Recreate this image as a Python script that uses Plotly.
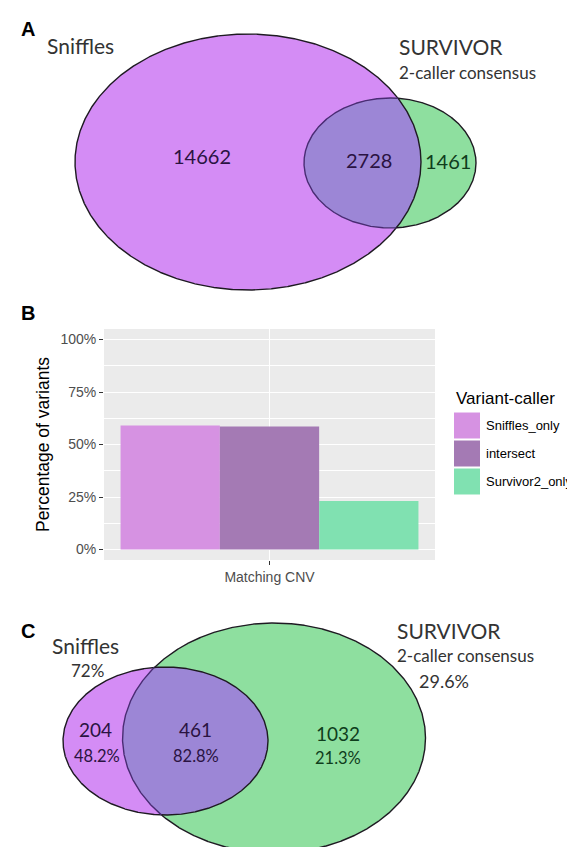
import numpy as np
import plotly.graph_objects as go

W, H = 575, 847

# ---------------- data ----------------
# Panel A (Venn counts)
a_sets = ["Sniffles", "SURVIVOR"]
a_subtitle = "2-caller consensus"
a_counts = [14662, 2728, 1461]          # Sniffles only, intersect, SURVIVOR only

# Panel B (bar chart)
b_category = ["Matching CNV"]
b_callers = ["Sniffles_only", "intersect", "Survivor2_only"]
b_values = [59.1, 58.6, 23.1]            # percent of variants
b_colors = ["#d692e2", "#a47ab4", "#80e1b1"]
b_tickvals = [0, 25, 50, 75, 100]
b_ticktext = ["0%", "25%", "50%", "75%", "100%"]
b_ytitle = "Percentage of variants"
b_legend_title = "Variant-caller"

# Panel C (Venn counts + percentages)
c_sets = ["Sniffles", "SURVIVOR"]
c_subtitle = "2-caller consensus"
c_counts = [204, 461, 1032]
c_region_pct = ["48.2%", "82.8%", "21.3%"]
c_set_pct = ["72%", "29.6%"]

# ---------------- styling / geometry ----------------
PURPLE = "#d48cf5"
GREEN = "#8edf9f"
OVERLAP = "#9c86d6"
EDGE = "#1e1a22"
EDGE_IN = "#4a2b74"
TXT_P = "#2a1342"
TXT_G = "#0f3d1c"
TXT_L = "#333333"
VFONT = "Lato"
GFONT = "Liberation Sans"

# ellipse geometry in figure pixel space: (cx, cy, rx, ry)
A_E1 = (240, 154, 173, 128)
A_E2 = (382, 155, 86, 65)
C_E1 = (157.5, 733, 102.5, 74)
C_E2 = (266, 730, 151.5, 115)


def ellipse(e, n=1500):
    cx, cy, rx, ry = e
    t = np.linspace(0, 2 * np.pi, n)
    return cx + rx * np.cos(t), cy + ry * np.sin(t)


def inside(x, y, e):
    cx, cy, rx, ry = e
    return ((x - cx) / rx) ** 2 + ((y - cy) / ry) ** 2 <= 1


def intersection(e1, e2):
    x1, y1 = ellipse(e1, 3000)
    x2, y2 = ellipse(e2, 3000)
    m1 = inside(x1, y1, e2)
    m2 = inside(x2, y2, e1)
    px = np.concatenate([x1[m1], x2[m2]])
    py = np.concatenate([y1[m1], y2[m2]])
    cx, cy = px.mean(), py.mean()
    o = np.argsort(np.arctan2(py - cy, px - cx))
    px, py = px[o], py[o]
    return np.append(px, px[0]), np.append(py, py[0])


fig = go.Figure()


def add_venn(e1, e2):
    for e, col in ((e1, PURPLE), (e2, GREEN)):
        x, y = ellipse(e)
        fig.add_trace(go.Scatter(x=x, y=y, mode="lines", fill="toself", fillcolor=col,
                                 line=dict(width=0), hoverinfo="skip", showlegend=False,
                                 xaxis="x2", yaxis="y2"))
    ix, iy = intersection(e1, e2)
    fig.add_trace(go.Scatter(x=ix, y=iy, mode="lines", fill="toself", fillcolor=OVERLAP,
                             line=dict(width=0), hoverinfo="skip", showlegend=False,
                             xaxis="x2", yaxis="y2"))
    x, y = ellipse(e1)
    fig.add_trace(go.Scatter(x=x, y=y, mode="lines", line=dict(color=EDGE, width=1.4),
                             hoverinfo="skip", showlegend=False, xaxis="x2", yaxis="y2"))
    x, y = ellipse(e2, 3000)
    m = inside(x, y, e1)
    for mask, col in ((~m, EDGE), (m, EDGE_IN)):
        fig.add_trace(go.Scatter(x=np.where(mask, x, np.nan), y=np.where(mask, y, np.nan),
                                 mode="lines", line=dict(color=col, width=1.4),
                                 connectgaps=False, hoverinfo="skip", showlegend=False,
                                 xaxis="x2", yaxis="y2"))


add_venn(A_E1, A_E2)
add_venn(C_E1, C_E2)

# ---------------- bar chart ----------------
for name, val, col in zip(b_callers, b_values, b_colors):
    fig.add_trace(go.Bar(x=b_category, y=[val], name=name,
                         marker=dict(color=col, line=dict(width=0)),
                         showlegend=False, xaxis="x", yaxis="y"))

annotations = []


def txt(x, y, s, size, color, family=VFONT, xanchor="center", yanchor="middle"):
    annotations.append(dict(x=x, y=y, xref="x2", yref="y2", text=s, showarrow=False,
                            font=dict(family=family, size=size, color=color),
                            xanchor=xanchor, yanchor=yanchor))


# panel letters
txt(20, 21, "<b>A</b>", 20, "#000000", GFONT)
txt(20, 305, "<b>B</b>", 20, "#000000", GFONT)
txt(20, 623, "<b>C</b>", 20, "#000000", GFONT)

# panel A texts
txt(37, 37, a_sets[0], 21, TXT_L, xanchor="left")
txt(389, 38, a_sets[1], 21, TXT_L, xanchor="left")
txt(389, 64, a_subtitle, 17, TXT_L, xanchor="left")
txt(194, 148, f"{a_counts[0]}", 20, TXT_P)
txt(361, 152, f"{a_counts[1]}", 20, TXT_P)
txt(440, 153, f"{a_counts[2]}", 20, TXT_G)

# panel C texts
txt(42, 637, c_sets[0], 21, TXT_L, xanchor="left")
txt(79, 662, c_set_pct[0], 17, TXT_L)
txt(387, 622, c_sets[1], 21, TXT_L, xanchor="left")
txt(387, 647, c_subtitle, 17, TXT_L, xanchor="left")
txt(436, 673, c_set_pct[1], 18, TXT_L)
txt(87, 721, f"{c_counts[0]}", 19, TXT_P)
txt(187, 721, f"{c_counts[1]}", 19, TXT_P)
txt(330, 725, f"{c_counts[2]}", 19, TXT_G)
txt(89, 748, c_region_pct[0], 16.5, TXT_P)
txt(188, 748, c_region_pct[1], 16.5, TXT_P)
txt(330, 750, c_region_pct[2], 16.5, TXT_G)

# legend for panel B (ggplot-style)
shapes = [dict(type="rect", xref="x domain", yref="y domain", x0=0, x1=1, y0=0, y1=1,
               fillcolor="#ebebeb", line=dict(width=0), layer="below")]
txt(446, 390, b_legend_title, 17, "#000000", GFONT, xanchor="left")
for i, (name, col) in enumerate(zip(b_callers, b_colors)):
    top = 404.5 + 28 * i
    shapes.append(dict(type="rect", xref="x2", yref="y2", x0=446, x1=472, y0=top, y1=top + 26,
                       fillcolor=col, line=dict(width=0)))
    txt(476, top + 13, name, 13, "#000000", GFONT, xanchor="left")

fig.update_layout(
    width=W, height=H,
    margin=dict(l=0, r=0, t=0, b=0),
    paper_bgcolor="white", plot_bgcolor="rgba(0,0,0,0)",
    barmode="group", bargap=0.1, bargroupgap=0,
    showlegend=False,
    annotations=annotations, shapes=shapes,
    xaxis=dict(domain=[96 / W, 427 / W], anchor="y", type="category", range=[-0.5, 0.5],
               showgrid=True, gridcolor="white", gridwidth=1.2, zeroline=False, showline=False,
               ticks="outside", ticklen=4, tickcolor="#333333", tickwidth=1.1,
               tickfont=dict(family=GFONT, size=14, color="#4d4d4d"), fixedrange=True),
    yaxis=dict(domain=[1 - 552 / H, 1 - 321 / H], anchor="x", range=[-5, 105],
               tickvals=b_tickvals, ticktext=b_ticktext,
               showgrid=True, gridcolor="white", gridwidth=1.2, zeroline=False, showline=False,
               minor=dict(tickvals=[12.5, 37.5, 62.5, 87.5], showgrid=True, gridcolor="white",
                          gridwidth=0.6, ticks=""),
               ticks="outside", ticklen=4, tickcolor="#333333", tickwidth=1.1,
               tickfont=dict(family=GFONT, size=14, color="#4d4d4d"),
               title=dict(text=b_ytitle, font=dict(family=GFONT, size=17.5, color="#000000"),
                          standoff=6), fixedrange=True),
    xaxis2=dict(domain=[0, 1], anchor="y2", range=[0, W], visible=False, fixedrange=True),
    yaxis2=dict(domain=[0, 1], anchor="x2", range=[H, 0], visible=False, fixedrange=True),
)

fig.write_html("out.html")
